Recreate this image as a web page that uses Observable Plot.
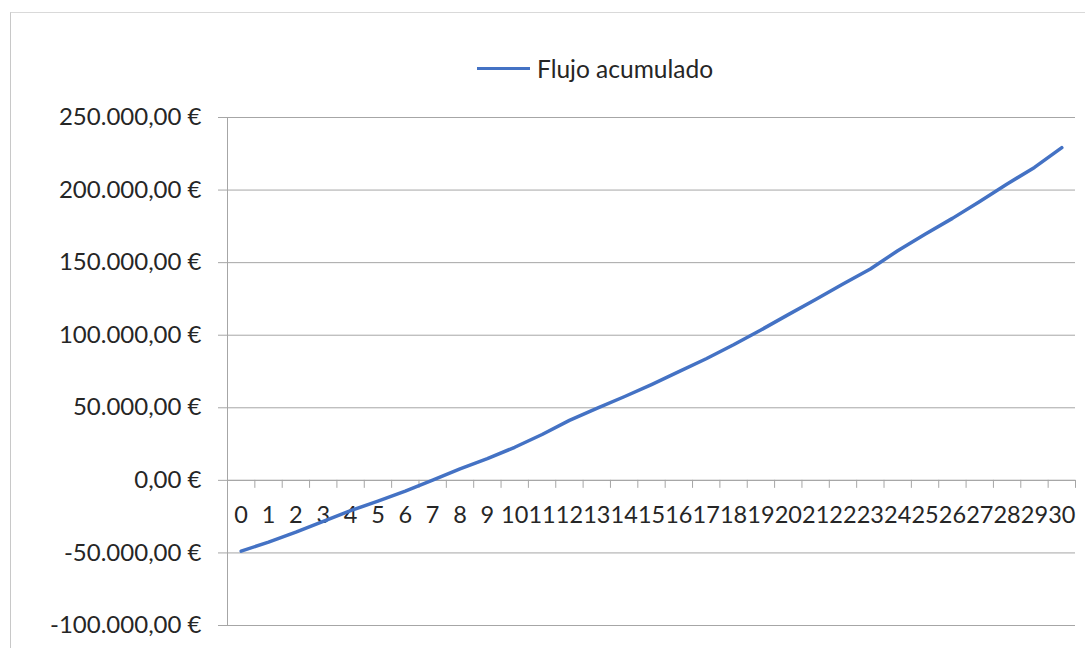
<!DOCTYPE html>
<html>
<head>
<meta charset="utf-8">
<script src="https://cdn.jsdelivr.net/npm/d3@7"></script>
<script src="https://cdn.jsdelivr.net/npm/@observablehq/plot@0.6"></script>
<style>
  html, body { margin: 0; padding: 0; background: #fff; }
  body { width: 1085px; height: 648px; overflow: hidden; position: relative; font-family: Lato, "Open Sans", sans-serif; }
  #frame { position: absolute; left: 10px; top: 12px; width: 1100px; height: 700px; border-left: 1px solid #c8c8c8; border-top: 1px solid #d9d9d9; box-sizing: border-box; }
  #legend { position: absolute; left: 477px; top: 52px; height: 32px; display: flex; align-items: center; font-size: 24.5px; color: #262626; }
  #legend .sw { width: 53px; height: 0; border-top: 3.5px solid #4472C4; margin-right: 7px; }
  #chart { position: absolute; left: 0; top: 100px; }
</style>
</head>
<body>
<div id="frame"></div>
<div id="legend"><span class="sw"></span><span>Flujo acumulado</span></div>
<div id="chart"></div>
<script>
// Years (categories)
const years = d3.range(0, 31);
// Cumulative cash flow (€)
const flujoAcumulado = [-48800, -42500, -35700, -28200, -20900, -14300, -7400, 100, 7900, 14900,
  22800, 31600, 41300, 49600, 57600, 66000, 74900, 83800, 93400, 103600,
  114200, 124600, 135300, 145600, 158200, 169500, 180500, 192200, 204200, 215600, 229200];
// Y tick values
const yTicks = [-100000, -50000, 0, 50000, 100000, 150000, 200000, 250000];

const data = years.map((y, i) => ({year: y, value: flujoAcumulado[i]}));
const boundaries = d3.range(-0.5, 31, 1);

const locale = d3.formatLocale({decimal: ",", thousands: ".", grouping: [3], currency: ["", " €"], minus: "-"});
const fmt = locale.format("$,.2f");

const gridColor = "#a6a6a6";
const textColor = "#262626";

const chart = Plot.plot({
  width: 1085,
  height: 548,
  marginTop: 17,
  marginBottom: 23,
  marginLeft: 227,
  marginRight: 10,
  style: {fontFamily: "Lato, 'Open Sans', sans-serif", fontSize: "24px", color: textColor, background: "transparent"},
  x: {type: "linear", domain: [-0.5, 30.5], axis: null},
  y: {domain: [-100000, 250000], axis: null},
  marks: [
    Plot.gridY(yTicks, {stroke: gridColor, strokeOpacity: 1, strokeWidth: 1}),
    Plot.axisY(yTicks, {label: null, tickFormat: fmt, tickSize: 9, tickPadding: 17, stroke: gridColor, fontSize: 24, fill: textColor}),
    Plot.ruleX([-0.5], {stroke: gridColor, strokeWidth: 1}),
    Plot.ruleY([0], {stroke: gridColor, strokeWidth: 1}),
    Plot.ruleX(boundaries, {x: d => d, y1: () => 0, y2: () => 0, insetBottom: -8, stroke: gridColor, strokeWidth: 1}),
    Plot.text(years, {x: d => d, y: () => 0, dy: 35, text: d => String(d), fontSize: 23.5, fill: textColor}),
    Plot.line(data, {x: "year", y: "value", stroke: "#4472C4", strokeWidth: 3.5, strokeLinecap: "round", strokeLinejoin: "round"})
  ]
});
document.getElementById("chart").appendChild(chart);
</script>
</body>
</html>
